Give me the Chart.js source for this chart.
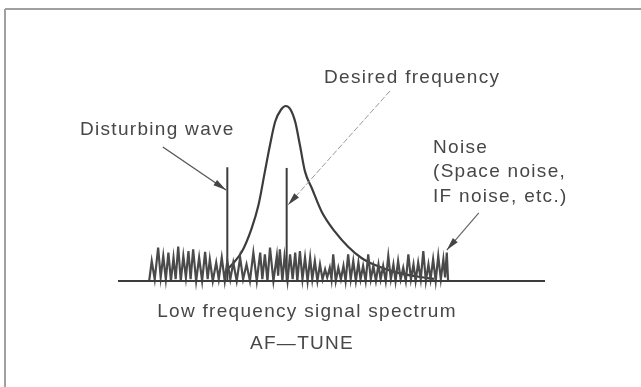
<!DOCTYPE html>
<html>
<head>
<meta charset="utf-8">
<script src="https://cdn.jsdelivr.net/npm/chart.js@4.4.1/dist/chart.umd.min.js"></script>
<style>
  html, body { margin: 0; padding: 0; background: #fff; }
  #wrap { position: relative; width: 641px; height: 387px; }
  canvas { display: block; }
</style>
</head>
<body>
<div id="wrap"><canvas id="c" width="641" height="387"></canvas></div>
<script>
// ---- data (frequency units 0..100, amplitude units 0..100) ----
const noiseFreq = [7.3,7.9,8.6,9.4,10.0,10.6,11.2,11.8,12.4,13.0,13.5,14.1,14.7,15.3,15.9,16.5,17.0,17.6,18.3,19.0,19.7,20.4,21.0,21.5,22.2,23.0,23.6,24.3,25.0,25.6,26.3,27.0,27.8,28.6,29.3,30.1,30.9,31.7,32.5,33.3,33.8,34.4,35.0,35.6,36.4,37.2,37.5,37.9,38.5,39.0,39.7,40.3,40.9,41.5,42.0,42.6,43.2,43.8,44.4,45.0,45.5,46.1,46.7,47.3,47.9,48.5,49.0,49.6,50.0,50.4,51.0,51.6,52.2,52.8,53.3,53.9,54.5,55.1,55.7,56.3,56.8,57.4,58.0,58.6,59.2,59.8,60.4,61.0,61.5,62.1,62.7,63.3,63.9,64.5,65.0,65.6,66.2,66.8,67.4,68.0,68.6,69.2,69.7,70.3,70.9,71.5,72.1,72.7,73.2,73.8,74.4,75.0,75.6,76.2,76.6,77.0,77.3];
const noiseLevel = [0,11.4,1,19.1,2,14.3,1,16.2,0,13.4,1,19.7,0,14.3,2,17.1,1,18.1,0,13.4,0,16.6,1,12.4,0,10.5,1,13.4,0,11.4,1,10.5,0,13.4,1,9.5,0,16.2,0,16.2,1,15.2,0,19.1,0,14.3,3,18.1,0,14,0,15.2,1,16.2,0,17.1,1,13.4,0,13.4,1,11.4,0,9.5,1,6.7,2,7.6,1,15.2,0,7.6,1,8.6,0,15.2,1,11.4,0,10.5,1,8.6,0,15.2,1,8.6,0,9.5,1,8.6,0,14.3,1,9.5,0,11.4,1,7.6,0,15.2,1,9.5,0,10.5,1,17.1,0,9.5,1,12.4,0,14.3,1,12.4,2,16.2,0];

const peakFreq  = [25.1,26.6,29.0,31.3,32.9,34.4,35.6,36.8,38.2,39.3,40.4,41.5,42.6,43.8,45.4,47.7,50.8,53.9,57.1,60.2,64.9,70.7,74.0];
const peakLevel = [5.3,9.1,16.7,30.1,43.4,62.5,77.7,91.0,98.0,100,98.0,91.0,77.7,62.5,53.0,39.6,28.2,19.6,13.0,9.1,5.1,2.3,1.2];

const disturbingFreq = [25.6, 25.6];
const disturbingLevel = [0, 65];
const desiredFreq = [39.5, 39.5];
const desiredLevel = [0, 64.6];
const baselineFreq = [0, 100];
const baselineLevel = [0, 0];

// annotation arrows: [fromFreq, fromLevel, toFreq, toLevel]
const arrowDisturbing = [10.5, 76.6, 25.3, 52.0];
const arrowDesired    = [63.7, 108.6, 39.8, 43.4];
const arrowNoise      = [84.5, 38.9, 77.0, 17.7];

const labelDisturbing = ['Disturbing wave'];
const labelDesired = ['Desired frequency'];
const labelNoise = ['Noise', '(Space noise,', 'IF noise, etc.)'];
const labelBottom = ['Low frequency signal spectrum', 'AF\u2014TUNE'];

const pts = (xs, ys) => xs.map((x, i) => ({x: x, y: ys[i]}));

const INK = '#444444';
const TEXT = '#474747';
const FONT = '19px "Liberation Sans", Arial, Helvetica, sans-serif';

const decor = {
  id: 'decor',
  beforeDraw(chart) {
    const ctx = chart.ctx;
    ctx.save();
    ctx.strokeStyle = '#a0a0a0';
    ctx.lineWidth = 2;
    ctx.beginPath();
    ctx.moveTo(5, 9); ctx.lineTo(641, 9);
    ctx.moveTo(5, 9); ctx.lineTo(5, 387);
    ctx.stroke();
    ctx.restore();
  },
  afterDraw(chart) {
    const ctx = chart.ctx;
    const xs = chart.scales.x, ys = chart.scales.y;
    function arrow(a, color, width, dash) {
      const x1 = xs.getPixelForValue(a[0]), y1 = ys.getPixelForValue(a[1]);
      const x2 = xs.getPixelForValue(a[2]), y2 = ys.getPixelForValue(a[3]);
      const ang = Math.atan2(y2 - y1, x2 - x1);
      ctx.save();
      ctx.strokeStyle = color; ctx.fillStyle = color; ctx.lineWidth = width;
      ctx.setLineDash(dash || []);
      ctx.beginPath(); ctx.moveTo(x1, y1); ctx.lineTo(x2, y2); ctx.stroke();
      ctx.setLineDash([]);
      const L = 13, W = 3.2;
      ctx.fillStyle = INK;
      ctx.beginPath();
      ctx.moveTo(x2, y2);
      ctx.lineTo(x2 - L * Math.cos(ang) + W * Math.sin(ang), y2 - L * Math.sin(ang) - W * Math.cos(ang));
      ctx.lineTo(x2 - L * Math.cos(ang) - W * Math.sin(ang), y2 - L * Math.sin(ang) + W * Math.cos(ang));
      ctx.closePath(); ctx.fill();
      ctx.restore();
    }
    arrow(arrowDisturbing, '#555', 1.3);
    arrow(arrowDesired, '#9a9a9a', 1, [6, 2]);
    arrow(arrowNoise, '#666', 1.2);

    ctx.save();
    ctx.fillStyle = TEXT;
    ctx.font = FONT;
    ctx.textBaseline = 'alphabetic';
    try { ctx.letterSpacing = '1.3px'; } catch (e) {}
    ctx.textAlign = 'left';
    ctx.fillText(labelDisturbing[0], 80, 135);
    ctx.fillText(labelDesired[0], 324, 83);
    labelNoise.forEach((t, i) => ctx.fillText(t, 433, 153 + i * 24.3));
    ctx.textAlign = 'center';
    ctx.fillText(labelBottom[0], 307, 317);
    ctx.fillText(labelBottom[1], 302, 349);
    ctx.restore();
  }
};

new Chart(document.getElementById('c'), {
  type: 'line',
  data: {
    datasets: [
      { data: pts(baselineFreq, baselineLevel), borderColor: '#3c3c3c', borderWidth: 2 },
      { data: pts(noiseFreq, noiseLevel), borderColor: '#4a4a4a', borderWidth: 2.2, tension: 0 },
      { data: pts(disturbingFreq, disturbingLevel), borderColor: '#3c3c3c', borderWidth: 2 },
      { data: pts(desiredFreq, desiredLevel), borderColor: '#3c3c3c', borderWidth: 2 },
      { data: pts(peakFreq, peakLevel), borderColor: '#3c3c3c', borderWidth: 2.2, cubicInterpolationMode: 'monotone' }
    ]
  },
  options: {
    responsive: false,
    animation: false,
    events: [],
    clip: false,
    layout: { padding: { left: 118, right: 96, top: 106, bottom: 106 } },
    elements: { point: { radius: 0 }, line: { fill: false, borderCapStyle: 'butt' } },
    plugins: { legend: { display: false }, tooltip: { enabled: false }, title: { display: false } },
    scales: {
      x: { type: 'linear', min: 0, max: 100, display: false },
      y: { type: 'linear', min: 0, max: 100, display: false }
    }
  },
  plugins: [decor]
});
</script>
</body>
</html>
